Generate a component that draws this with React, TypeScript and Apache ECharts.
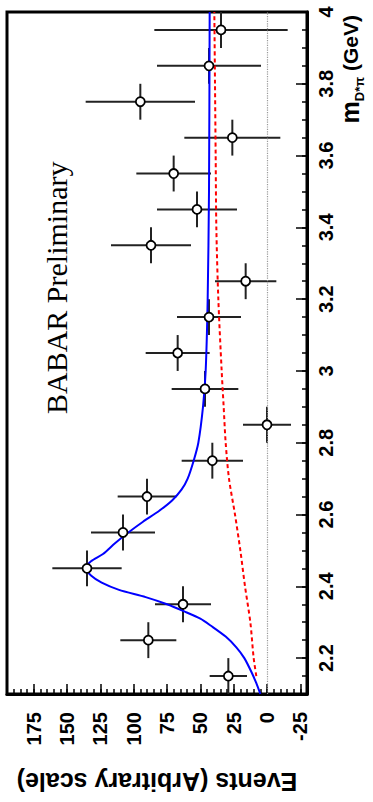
import React, { useEffect, useRef } from "react";
import * as echarts from "echarts";

// Measured bins (mass bin centres, GeV) with event counts and their errors
const massBins = [2.15, 2.25, 2.35, 2.45, 2.55, 2.65, 2.75, 2.85, 2.95, 3.05, 3.15, 3.25, 3.35, 3.45, 3.55, 3.65, 3.75, 3.85, 3.95];
const eventCounts = [29, 89, 63, 135, 108, 90, 41, 0, 46.5, 67, 43.5, 16, 87, 52.5, 70, 26, 95, 43.5, 34.5];
const eventErrors = [14, 21, 21, 26, 24, 22, 23, 18, 25, 24, 24, 23, 30, 30, 28, 36, 41, 39, 50];
const binHalfWidth = 0.05;

// Total fit (blue)
const fitMass = [2.1, 2.13, 2.16, 2.2, 2.23, 2.26, 2.29, 2.31, 2.33, 2.35, 2.37, 2.39, 2.41, 2.43, 2.45, 2.47, 2.49, 2.52, 2.55, 2.58, 2.61, 2.64, 2.67, 2.7, 2.75, 2.8, 2.9, 3.0, 3.2, 3.5, 4.0];
const fitEvents = [5, 8, 11.5, 17, 23, 31, 42, 50, 62, 75, 91, 111, 124, 132, 136, 132, 123, 114, 104, 93, 81, 71, 64, 59.5, 55, 51.5, 48, 46, 44.5, 43.5, 43];

// Background (red dashed)
const bkgMass = [2.15, 2.2, 2.3, 2.4, 2.5, 2.6, 2.7, 2.8, 2.9, 3.0, 3.2, 3.4, 3.6, 3.8, 4.0];
const bkgEvents = [8, 10, 12.5, 16.5, 20, 24, 28.5, 31, 32.5, 34, 36.5, 38, 38.5, 39, 39.5];

// Axis tick labels
const eventTicks = [-25, 0, 25, 50, 75, 100, 125, 150, 175];
const massTicks = [2.2, 2.4, 2.6, 2.8, 3.0, 3.2, 3.4, 3.6, 3.8, 4.0];

const FONT = '"Liberation Sans", Arial, Helvetica, sans-serif';

export default function App() {
  const ref = useRef<HTMLDivElement>(null);

  useEffect(() => {
    if (!ref.current) return;
    const chart = echarts.init(ref.current, null, { renderer: "svg" });

    const tickStyle = { color: "#000", width: 1.5 };
    const errData = massBins.map((m, i) => [m, eventCounts[i], eventErrors[i]]);

    const option: any = {
      animation: false,
      backgroundColor: "#fff",
      grid: {
        left: 7,
        right: 66,
        top: 12,
        bottom: 108,
        show: true,
        borderColor: "#000",
        borderWidth: 3,
        outerBoundsMode: "none",
      },
      xAxis: [
        {
          type: "value",
          min: -30,
          max: 195,
          interval: 5,
          inverse: true,
          position: "bottom",
          axisLine: { show: true, onZero: false, lineStyle: { color: "#000", width: 3 } },
          axisTick: { show: true, inside: true, length: 5, lineStyle: tickStyle },
          axisLabel: { show: false },
          splitLine: { show: false },
        },
        {
          type: "value",
          min: -30,
          max: 195,
          inverse: true,
          position: "bottom",
          axisLine: { show: false, onZero: false },
          axisTick: { show: true, inside: true, length: 10, customValues: eventTicks, lineStyle: tickStyle },
          axisLabel: {
            show: true,
            customValues: eventTicks,
            rotate: 90,
            margin: 18,
            color: "#000",
            fontSize: 20,
            fontWeight: "bold",
            fontFamily: FONT,
          },
          splitLine: { show: false },
          name: "Events (Arbitrary scale)",
          nameLocation: "middle",
          nameGap: 75,
          nameRotate: 180,
          nameTextStyle: { color: "#000", fontSize: 25, fontWeight: "bold", fontFamily: FONT },
        },
      ],
      yAxis: [
        {
          type: "value",
          min: 2.1,
          max: 4.0,
          interval: 0.05,
          position: "right",
          axisLine: { show: true, onZero: false, lineStyle: { color: "#000", width: 3 } },
          axisTick: { show: true, inside: true, length: 5, lineStyle: tickStyle },
          axisLabel: { show: false },
          splitLine: { show: false },
        },
        {
          type: "value",
          min: 2.1,
          max: 4.0,
          position: "right",
          axisLine: { show: false, onZero: false },
          axisTick: { show: true, inside: true, length: 11, customValues: massTicks, lineStyle: tickStyle },
          axisLabel: {
            show: true,
            customValues: massTicks,
            rotate: 90,
            margin: 9,
            color: "#000",
            fontSize: 20,
            fontWeight: "bold",
            fontFamily: FONT,
            formatter: (v: number) => String(Math.round(v * 10) / 10),
          },
          splitLine: { show: false },
        },
      ],
      series: [
        {
          type: "custom",
          name: "errors",
          xAxisIndex: 0,
          yAxisIndex: 0,
          encode: { x: 1, y: 0 },
          data: errData,
          z: 2,
          renderItem: (params: any, api: any) => {
            const m = api.value(0);
            const e = api.value(1);
            const err = api.value(2);
            const l = api.coord([e + err, m]);
            const r = api.coord([e - err, m]);
            const t = api.coord([e, m + binHalfWidth]);
            const b = api.coord([e, m - binHalfWidth]);
            const st = { stroke: "#222", lineWidth: 2 };
            return {
              type: "group",
              children: [
                { type: "line", shape: { x1: l[0], y1: l[1], x2: r[0], y2: r[1] }, style: st },
                { type: "line", shape: { x1: t[0], y1: t[1], x2: b[0], y2: b[1] }, style: st },
              ],
            };
          },
        },
        {
          type: "line",
          name: "background",
          xAxisIndex: 0,
          yAxisIndex: 0,
          data: bkgMass.map((m, i) => [bkgEvents[i], m]),
          showSymbol: false,
          symbol: "none",
          smooth: 0.3,
          lineStyle: { color: "#ff0000", width: 2, type: [4, 3] },
          z: 3,
        },
        {
          type: "line",
          name: "fit",
          xAxisIndex: 0,
          yAxisIndex: 0,
          data: fitMass.map((m, i) => [fitEvents[i], m]),
          showSymbol: false,
          symbol: "none",
          smooth: 0.25,
          lineStyle: { color: "#0000ff", width: 2 },
          z: 4,
        },
        {
          type: "scatter",
          name: "data",
          xAxisIndex: 0,
          yAxisIndex: 0,
          data: massBins.map((m, i) => [eventCounts[i], m]),
          symbol: "circle",
          symbolSize: 9,
          itemStyle: { color: "#fff", borderColor: "#000", borderWidth: 1.8, opacity: 1 },
          z: 5,
          markLine: {
            silent: true,
            symbol: ["none", "none"],
            label: { show: false },
            lineStyle: { color: "#999", width: 1.2, type: "dotted" },
            data: [{ xAxis: 0 }],
          },
        },
      ],
      graphic: [
        {
          type: "text",
          x: 56,
          y: 414,
          rotation: Math.PI / 2,
          style: {
            text: "BABAR Preliminary",
            fill: "#000",
            font: '30px "Liberation Serif", "Times New Roman", serif',
            align: "left",
            verticalAlign: "middle",
          },
        },
        {
          type: "text",
          x: 350,
          y: 15,
          rotation: Math.PI / 2,
          style: {
            text: "{a|m}{b|D*π}{c| (GeV)}",
            fill: "#000",
            align: "right",
            verticalAlign: "middle",
            rich: {
              a: { fontSize: 25, fontWeight: "bold", fontFamily: FONT, lineHeight: 32, fill: "#000" },
              b: { fontSize: 13, fontWeight: "bold", fontFamily: FONT, lineHeight: 32, verticalAlign: "bottom", fill: "#000" },
              c: { fontSize: 21, fontWeight: "bold", fontFamily: FONT, lineHeight: 32, fill: "#000" },
            },
          },
        },
      ],
    };

    chart.setOption(option);
    return () => chart.dispose();
  }, []);

  return (
    <div
      ref={ref}
      style={{ position: "fixed", left: 0, top: 0, width: 373, height: 802, background: "#fff" }}
    />
  );
}
